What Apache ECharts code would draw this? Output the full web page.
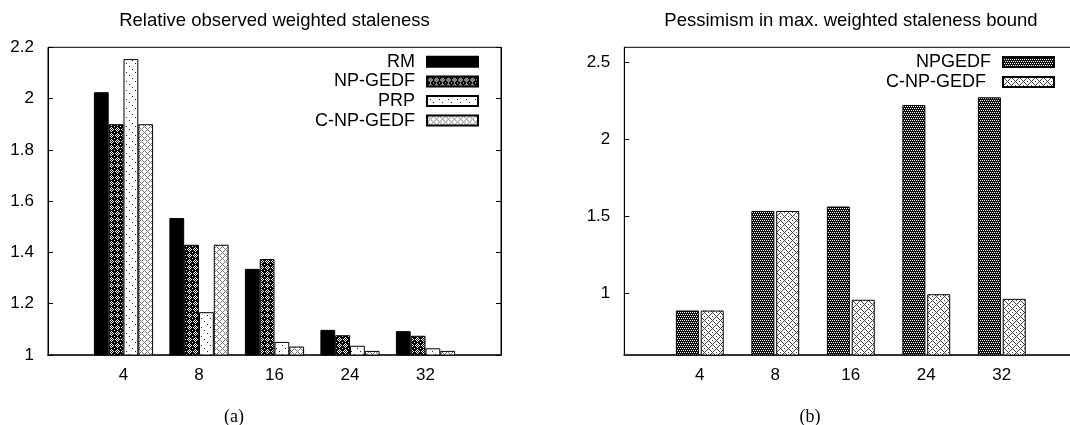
<!DOCTYPE html>
<html><head><meta charset="utf-8">
<script src="https://cdn.jsdelivr.net/npm/echarts@6/dist/echarts.min.js"></script>
<style>html,body{margin:0;padding:0;background:#fff}#c{width:1070px;height:425px}</style>
</head><body><div id="c"></div>
<script>
// ---- data ----
const categories = ['4', '8', '16', '24', '32'];
const rmValues = [2.025, 1.534, 1.336, 1.098, 1.093];
const npGedfValues = [1.900, 1.430, 1.374, 1.077, 1.075];
const prpValues = [2.154, 1.167, 1.051, 1.036, 1.026];
const cNpGedfValues = [1.900, 1.430, 1.033, 1.016, 1.016];
const npgedfBoundValues = [0.889, 1.536, 1.565, 2.225, 2.275];
const cNpGedfBoundValues = [0.889, 1.536, 0.959, 0.995, 0.965];
const rightTickValues = [1, 1.5, 2, 2.5];
const leftTitle = 'Relative observed weighted staleness';
const rightTitle = 'Pessimism in max. weighted staleness bound';

// ---- fill patterns ----
function pat(size, bg, fg, pts) {
  const c = document.createElement('canvas');
  c.width = c.height = size;
  const g = c.getContext('2d');
  g.fillStyle = bg; g.fillRect(0, 0, size, size);
  g.fillStyle = fg;
  pts.forEach(p => g.fillRect(p[0], p[1], 1, 1));
  return { image: c, repeat: 'repeat' };
}
const diag = (n, step) => { const a = []; for (let i = 0; i < n; i += step) a.push([i, i]); return a; };
const xhatch = n => { const a = []; for (let i = 0; i < n; i++) { a.push([i, i]); a.push([(n - i) % n, i]); } return a; };

const patNp = pat(6, '#000', '#fff', [[3,1],[2,2],[4,2],[1,3],[5,3],[2,4],[4,4],[3,5],[0,0],[3,3]]);
const patPrp = pat(9, '#fff', '#222', diag(9, 3));
const patC = pat(6, '#fff', '#777', xhatch(6));
const patNpB = pat(4, '#111', '#fff', [[0,0],[2,0],[1,2],[3,2]]);
const patCB = pat(8, '#fff', '#444', xhatch(8).concat([[4,0],[0,4]]));

const font = 'Liberation Sans';
const border = { borderColor: '#000', borderWidth: 1 };

function xAx(gi) {
  return {
    type: 'category', gridIndex: gi, data: categories, min: -1, max: 5, boundaryGap: false,
    axisLine: { lineStyle: { color: '#333', width: 2 } },
    axisTick: { show: false },
    axisLabel: { interval: 0, margin: 12, color: '#000', fontFamily: font, fontSize: 17 },
    splitLine: { show: false }
  };
}

const option = {
  animation: false,
  backgroundColor: '#fff',
  graphic: [
    { type: 'text', x: 274.5, y: 21, style: { text: leftTitle, font: '18.5px "Liberation Sans"', align: 'center', verticalAlign: 'middle', fill: '#000' } },
    { type: 'text', x: 851, y: 21, style: { text: rightTitle, font: '18.5px "Liberation Sans"', align: 'center', verticalAlign: 'middle', fill: '#000' } },
    { type: 'text', x: 234, y: 417, style: { text: '(a)', font: '18px "Liberation Serif"', align: 'center', verticalAlign: 'middle', fill: '#000' } },
    { type: 'text', x: 810, y: 417, style: { text: '(b)', font: '18px "Liberation Serif"', align: 'center', verticalAlign: 'middle', fill: '#000' } }
  ],
  grid: [
    { left: 48, width: 453, top: 47.3, bottom: 70, show: true, borderColor: '#000', borderWidth: 1, containLabel: false, outerBoundsMode: 'none' },
    { left: 624.3, width: 453, top: 47.3, bottom: 70, show: true, borderColor: '#000', borderWidth: 1, containLabel: false, outerBoundsMode: 'none' }
  ],
  legend: [
    { data: ['RM', 'NP-GEDF', 'PRP', 'C-NP-GEDF'], orient: 'vertical', align: 'right', right: 591, top: 52,
      padding: 0, itemGap: 0, itemWidth: 51, itemHeight: 10, icon: 'rect',
      textStyle: { fontFamily: font, fontSize: 18, color: '#000', lineHeight: 19.6, padding: [0, 7, 0, 0] } },
    { data: ['NPGEDF', 'C-NP-GEDF '], orient: 'vertical', align: 'right', right: 15, top: 52,
      padding: 0, itemGap: 0, itemWidth: 51, itemHeight: 10, icon: 'rect',
      textStyle: { fontFamily: font, fontSize: 18, color: '#000', lineHeight: 20, padding: [0, 7, 0, 0] } }
  ],
  xAxis: [xAx(0), xAx(1)],
  yAxis: [
    { type: 'value', gridIndex: 0, min: 1, max: 2.2, interval: 0.2,
      axisLine: { show: true, lineStyle: { color: '#000', width: 1 } },
      axisTick: { show: true, inside: true, length: 5, lineStyle: { color: '#000' } },
      axisLabel: { margin: 14, color: '#000', fontFamily: font, fontSize: 17 },
      splitLine: { show: false } },
    { type: 'value', gridIndex: 0, position: 'right', min: 1, max: 2.2, interval: 0.2,
      axisLine: { show: true, lineStyle: { color: '#000', width: 1 } },
      axisTick: { show: true, inside: true, length: 5, lineStyle: { color: '#000' } },
      axisLabel: { show: false }, splitLine: { show: false } },
    { type: 'value', gridIndex: 1, min: 0.6, max: 2.6,
      axisLine: { show: true, lineStyle: { color: '#000', width: 1 } },
      axisTick: { show: true, inside: true, length: 5, lineStyle: { color: '#000' }, customValues: rightTickValues },
      axisLabel: { margin: 14, color: '#000', fontFamily: font, fontSize: 17, customValues: rightTickValues },
      splitLine: { show: false } }
  ],
  series: [
    { name: 'RM', type: 'bar', xAxisIndex: 0, yAxisIndex: 0, data: rmValues, barWidth: 14.8, barGap: '0%', itemStyle: Object.assign({ color: '#000' }, border) },
    { name: 'NP-GEDF', type: 'bar', xAxisIndex: 0, yAxisIndex: 0, data: npGedfValues, barWidth: 14.8, barGap: '0%', itemStyle: Object.assign({ color: patNp }, border) },
    { name: 'PRP', type: 'bar', xAxisIndex: 0, yAxisIndex: 0, data: prpValues, barWidth: 14.8, barGap: '0%', itemStyle: Object.assign({ color: patPrp }, border) },
    { name: 'C-NP-GEDF', type: 'bar', xAxisIndex: 0, yAxisIndex: 0, data: cNpGedfValues, barWidth: 14.8, barGap: '0%', itemStyle: Object.assign({ color: patC }, border) },
    { name: 'NPGEDF', type: 'bar', xAxisIndex: 1, yAxisIndex: 2, data: npgedfBoundValues, barWidth: 23, barGap: '8%', itemStyle: Object.assign({ color: patNpB }, border) },
    { name: 'C-NP-GEDF ', type: 'bar', xAxisIndex: 1, yAxisIndex: 2, data: cNpGedfBoundValues, barWidth: 23, barGap: '8%', itemStyle: Object.assign({ color: patCB }, border) }
  ]
};
const chart = echarts.init(document.getElementById('c'), null, { renderer: 'canvas' });
chart.setOption(option);
</script></body></html>
